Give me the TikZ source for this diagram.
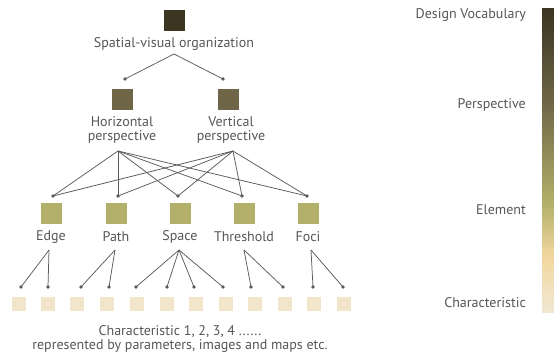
\documentclass[tikz,border=0pt]{standalone}
\usepackage{fontspec}
\setmainfont{PT Sans}
\usetikzlibrary{positioning}
\definecolor{vocabcol}{HTML}{3B3522}
\definecolor{perspcol}{HTML}{6E6646}
\definecolor{elemcol}{HTML}{B2B06A}
\definecolor{charcol}{HTML}{F1E6C9}
\definecolor{peachcol}{HTML}{F3D79F}
\definecolor{barbot}{HTML}{F0E8D3}
\definecolor{txtcol}{HTML}{55565A}
\definecolor{linecol}{HTML}{5A5A5A}
\pgfdeclareverticalshading{levelscale}{100bp}{color(0bp)=(barbot); color(25bp)=(barbot);
  color(34bp)=(peachcol); color(43bp)=(elemcol); color(59.6bp)=(perspcol);
  color(75bp)=(vocabcol); color(100bp)=(vocabcol)}
\tikzset{
    sq/.style={
           rectangle,
           draw=white, line width=0.6pt,
           minimum size=22pt,
           inner sep=0pt,
           },
    smallsq/.style={sq, minimum size=15pt, fill=charcol},
    lbl/.style={
           text=txtcol,
           font=\fontsize{14}{14.5}\selectfont,
           align=center,
           inner sep=1pt,
           },
    link/.style={draw=linecol, line width=0.75pt},
    dot/.style={fill=linecol},
}

\begin{document}
\begin{tikzpicture}[x=1pt,y=-1pt]
 \useasboundingbox (0,0) rectangle (554,355);

 % top level
 \node[sq, fill=vocabcol] (vocab) at (174,20) {};
 \node[lbl] (vocablbl) at (174,44) {Spatial-visual organization};
 \coordinate (vocabtip) at (174,54);

 % perspectives
 \node[sq, fill=perspcol] (horiz) at (122,99) {};
 \node[sq, fill=perspcol] (vert) at (228,99) {};
 \node[lbl] (horizlbl) at (122,130) {Horizontal\\perspective};
 \node[lbl] (vertlbl) at (231,130) {Vertical\\perspective};
 \coordinate (horizin) at (125,79);
 \coordinate (vertin) at (223,79);
 \coordinate (horiztip) at (118,151);
 \coordinate (verttip) at (233,151);

 \draw[link] (horizin) -- (vocabtip) -- (vertin);

 % elements
 \foreach \nm/\x/\dx/\tx/\txt in {edge/51/53/49/Edge, pathel/116/118/115/Path,
     space/180/178/179/Space, thresh/244/242/244/Threshold, foci/308/307/311/Foci} {
   \node[sq, fill=elemcol] (\nm) at (\x,213) {};
   \node[lbl] (\nm lbl) at (\x,237) {\txt};
   \coordinate (\nm in) at (\dx,196);
   \coordinate (\nm tip) at (\tx,250);
   \draw[link] (horiztip) -- (\nm in);
   \draw[link] (verttip) -- (\nm in);
 }

 % characteristics
 \foreach \i/\x/\dx in {1/19/21, 2/48/48, 3/77/81, 4/107/109, 5/137/136, 6/167/167,
     7/196/194, 8/226/223, 9/255/251, 10/285/283, 11/314/313, 12/344/343} {
   \node[smallsq] (char\i) at (\x,304) {};
   \coordinate (char\i in) at (\dx,287);
 }
 \foreach \nm/\i in {edge/1, edge/2, pathel/3, pathel/4, space/5, space/6, space/7,
     space/8, thresh/9, thresh/10, foci/11, foci/12}
   \draw[link] (\nm tip) -- (char\i in);

 % connector dots
 \foreach \c in {horizin, vertin, edgein, pathelin, spacein, threshin, fociin}
   \fill[dot] (\c) circle (1.8pt);
 \foreach \i in {1,...,12}
   \fill[dot] (char\i in) circle (1.8pt);

 \node[lbl] (charlbl) at (180,339) {Characteristic 1, 2, 3, 4 ......\\represented by parameters, images and maps etc.};

 % level scale
 \shade[shading=levelscale] (542,9) rectangle (554,312);
 \node[lbl, anchor=east] (lvvocab) at (527,15) {Design Vocabulary};
 \node[lbl, anchor=east] (lvpersp) at (527,105) {Perspective};
 \node[lbl, anchor=east] (lvelem) at (527,210) {Element};
 \node[lbl, anchor=east] (lvchar) at (527,303) {Characteristic};

\end{tikzpicture}
\end{document}
